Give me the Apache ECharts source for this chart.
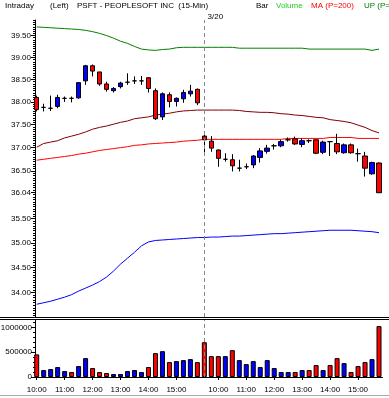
<!DOCTYPE html>
<html><head><meta charset="utf-8">
<script src="https://cdn.jsdelivr.net/npm/echarts@6/dist/echarts.min.js"></script>
<style>html,body{margin:0;padding:0;background:#fff}#c{width:389px;height:398px}</style>
</head><body><div id="c"></div>
<script>
// ---- data ----
const day1Times = ['10:00','10:15','10:30','10:45','11:00','11:15','11:30','11:45','12:00','12:15','12:30','12:45','13:00','13:15','13:30','13:45','14:00','14:15','14:30','14:45','15:00','15:15','15:30','15:45'];
const day2Times = ['9:30','9:45','10:00','10:15','10:30','10:45','11:00','11:15','11:30','11:45','12:00','12:15','12:30','12:45','13:00','13:15','13:30','13:45','14:00','14:15','14:30','14:45','15:00','15:15','15:30','15:45'];
const dayNames = ['3/19','3/20'];

const opens  = [38.10,37.88,37.86,37.90,38.08,38.08,38.09,38.47,38.81,38.67,38.40,38.25,38.34,38.44,38.47,38.47,38.54,38.25,37.67,38.16,38.01,38.07,38.18,38.28,
                37.25,37.14,36.95,36.75,36.74,36.56,36.59,36.63,36.79,36.92,37.04,37.04,37.17,37.19,37.07,37.15,37.17,36.90,37.13,37.09,36.89,37.06,36.87,36.82,36.44,36.67];
const closes = [37.83,37.88,37.86,38.10,38.08,38.08,38.43,38.81,38.69,38.40,38.28,38.30,38.42,38.44,38.47,38.47,38.30,37.63,38.18,38.01,38.08,38.21,38.24,37.98,
                37.17,36.99,36.77,36.75,36.61,36.56,36.59,36.82,36.93,36.99,37.04,37.13,37.17,37.08,37.15,37.15,36.88,37.12,37.13,36.91,37.06,36.89,36.87,36.56,36.68,36.04];
const lows   = [37.79,37.79,37.80,37.86,38.00,37.99,38.07,38.38,38.57,38.36,38.23,38.21,38.30,38.38,38.40,38.38,38.21,37.60,37.60,37.88,37.90,37.98,38.12,37.93,
                36.84,36.91,36.59,36.70,36.49,36.49,36.54,36.56,36.68,36.87,36.96,37.01,37.13,37.06,37.01,37.10,36.86,36.86,36.82,36.86,36.87,36.87,36.70,36.38,36.42,36.04];
const highs  = [38.14,37.96,38.14,38.16,38.12,38.12,38.44,38.83,38.84,38.67,38.45,38.33,38.45,38.64,38.57,38.58,38.55,38.30,38.21,38.21,38.10,38.27,38.38,38.30,
                37.30,37.25,36.96,36.88,36.86,36.74,36.66,36.84,36.99,37.06,37.08,37.17,37.22,37.24,37.20,37.18,37.18,37.15,37.14,37.30,37.09,37.09,36.98,36.91,36.70,36.68];

const volumes = [455000,140000,160000,200000,120000,100000,220000,380000,180000,100000,80000,60000,60000,120000,140000,100000,200000,480000,520000,300000,320000,340000,360000,300000,
                 700000,420000,420000,420000,540000,340000,260000,320000,200000,340000,180000,100000,100000,100000,140000,140000,240000,140000,240000,380000,280000,100000,220000,300000,360000,1025000];
const volumeUp = [0,1,1,1,1,0,1,1,0,0,0,1,1,1,1,1,0,0,1,0,1,1,1,0,
                  0,0,0,1,0,1,1,1,1,1,1,1,1,0,1,0,0,1,0,0,1,0,0,0,1,0];

const upBand = [39.70,39.69,39.68,39.67,39.66,39.65,39.64,39.62,39.59,39.55,39.50,39.44,39.37,39.32,39.25,39.19,39.17,39.16,39.18,39.19,39.22,39.23,39.23,39.23,39.23,
                39.23,39.23,39.23,39.23,39.21,39.21,39.21,39.21,39.21,39.21,39.21,39.21,39.21,39.21,39.19,39.19,39.19,39.19,39.19,39.19,39.19,39.19,39.19,39.16,39.19];
const maSlow = [37.01,37.09,37.12,37.15,37.21,37.25,37.29,37.34,37.40,37.44,37.47,37.51,37.55,37.58,37.63,37.65,37.67,37.71,37.73,37.75,37.78,37.80,37.81,37.82,37.82,
                37.82,37.82,37.82,37.82,37.81,37.79,37.78,37.77,37.77,37.76,37.74,37.73,37.71,37.70,37.68,37.66,37.65,37.61,37.59,37.57,37.54,37.49,37.44,37.37,37.32];
const ma200 = [36.73,36.75,36.77,36.79,36.81,36.83,36.86,36.88,36.91,36.94,36.96,36.98,37.00,37.02,37.05,37.06,37.08,37.09,37.10,37.11,37.12,37.14,37.15,37.16,37.18,
               37.18,37.18,37.18,37.18,37.18,37.18,37.18,37.18,37.18,37.18,37.18,37.20,37.20,37.20,37.20,37.20,37.20,37.22,37.22,37.22,37.22,37.20,37.20,37.20,37.20];
const dnBand = [33.77,33.80,33.83,33.87,33.91,33.96,34.03,34.09,34.15,34.22,34.31,34.43,34.57,34.69,34.81,34.94,35.02,35.05,35.06,35.07,35.08,35.09,35.10,35.11,35.11,
                35.12,35.12,35.13,35.14,35.14,35.15,35.16,35.17,35.18,35.19,35.19,35.20,35.21,35.22,35.23,35.24,35.25,35.26,35.26,35.26,35.26,35.25,35.24,35.23,35.21];

const priceTicks = [39.50,39.00,38.50,38.00,37.50,37.00,36.50,36.04,35.50,35.00,34.50,34.00];
const volumeTicks = [0,500000,1000000];
const priceMin = 33.52, priceMax = 39.86;
const volumeMax = 1147000;
const sessionBreakIndex = 24;

// ---- chart ----
const FONT = "'Liberation Sans',Arial,sans-serif";
const FS = 8;
const L = Math.log;
const categories = [...day1Times.map(t => dayNames[0] + ' ' + t), ...day2Times.map(t => dayNames[1] + ' ' + t)];
const candleData = opens.map((o, i) => [L(o), L(closes[i]), L(lows[i]), L(highs[i])]);
const minorPrice = [];
for (let p = 33.55; p < priceMax; p += 0.05) minorPrice.push(L(p));
const minorVol = [];
for (let v = 0; v <= volumeMax; v += 100000) minorVol.push(v);
const isHour = (i, v) => /:00$/.test(v) && !/^\S+ 9:/.test(v);

const GL = 33.2, GR = 6.5;
const chart = echarts.init(document.getElementById('c'), null, {renderer: 'canvas'});
const txt = (text, left, color) => ({text, left, top: 2, padding: 0,
  textStyle: {fontSize: FS, fontWeight: 'normal', fontFamily: FONT, color: color || '#000'}});
const lineS = (name, data, color) => ({type: 'line', name, xAxisIndex: 0, yAxisIndex: 0,
  data: data.map(L), symbol: 'none', lineStyle: {color, width: 1}, z: 2, animation: false});

chart.setOption({
  animation: false,
  backgroundColor: '#fff',
  textStyle: {fontFamily: FONT},
  title: [
    txt('Intraday', 5), txt('(Left)', 50), txt('PSFT - PEOPLESOFT INC  (15-Min)', 77),
    txt('Bar', 256), txt('Volume', 276, '#22cc22'), txt('MA (P=200)', 311, '#ff0000'),
    txt('UP (P=200)', 364, '#008000')
  ],
  grid: [
    {left: GL, right: GR, top: 20, height: 297, outerBoundsMode: 'none', containLabel: false},
    {left: GL, right: GR, top: 320, height: 57, outerBoundsMode: 'none', containLabel: false}
  ],
  xAxis: [
    {type: 'category', gridIndex: 0, data: categories, boundaryGap: true,
     axisLine: {show: true, lineStyle: {color: '#000'}}, axisTick: {show: false}, axisLabel: {show: false}},
    {type: 'category', gridIndex: 1, data: categories, boundaryGap: true,
     axisLine: {show: true, lineStyle: {color: '#000'}},
     axisTick: {show: true, interval: isHour, alignWithLabel: true, length: 3, lineStyle: {color: '#000'}},
     axisLabel: {interval: isHour, formatter: v => v.split(' ')[1], fontSize: FS, color: '#000', margin: 9, fontFamily: FONT}}
  ],
  yAxis: [
    {type: 'value', gridIndex: 0, position: 'left', min: L(priceMin), max: L(priceMax), offset: -1.8,
     axisLine: {show: true, lineStyle: {color: '#000'}}, splitLine: {show: false},
     axisTick: {show: true, length: 4, customValues: priceTicks.map(L), lineStyle: {color: '#000'}},
     axisLabel: {customValues: priceTicks.map(L), formatter: v => Math.exp(v).toFixed(2), fontSize: FS, color: '#000', margin: 4, fontFamily: FONT}},
    {type: 'value', gridIndex: 0, position: 'left', min: L(priceMin), max: L(priceMax), offset: -1.8,
     axisLine: {show: false}, splitLine: {show: false},
     axisTick: {show: true, length: 2, customValues: minorPrice, lineStyle: {color: '#000'}},
     axisLabel: {show: false}},
    {type: 'value', gridIndex: 1, position: 'left', min: 0, max: volumeMax, offset: -1.8,
     axisLine: {show: true, lineStyle: {color: '#000'}}, splitLine: {show: false},
     axisTick: {show: true, length: 4, customValues: volumeTicks, lineStyle: {color: '#000'}},
     axisLabel: {customValues: volumeTicks, formatter: v => String(Math.round(v)), fontSize: FS, color: '#000', margin: 3, fontFamily: FONT}},
    {type: 'value', gridIndex: 1, position: 'left', min: 0, max: volumeMax, offset: -1.8,
     axisLine: {show: false}, splitLine: {show: false},
     axisTick: {show: true, length: 2, customValues: minorVol, lineStyle: {color: '#000'}},
     axisLabel: {show: false}}
  ],
  series: [
    lineS('UP (P=200)', upBand, '#008000'),
    lineS('MA', maSlow, '#800000'),
    lineS('MA (P=200)', ma200, '#ff0000'),
    lineS('DN (P=200)', dnBand, '#0000ff'),
    {type: 'candlestick', name: 'Bar', xAxisIndex: 0, yAxisIndex: 0, data: candleData, barWidth: 5, z: 3,
     itemStyle: {color: '#0000ff', color0: '#ff0000', borderColor: '#000', borderColor0: '#000', borderColorDoji: '#000', borderWidth: 1},
     markLine: {silent: true, symbol: 'none', animation: false,
       lineStyle: {color: '#888', type: [4, 3], width: 1},
       label: {show: true, position: 'end', formatter: dayNames[1], color: '#000', fontSize: FS, fontFamily: FONT, offset: [11, 6]},
       data: [{xAxis: sessionBreakIndex}]}},
    {type: 'bar', name: 'Volume', xAxisIndex: 1, yAxisIndex: 2, data: volumes, barWidth: 5,
     itemStyle: {color: p => volumeUp[p.dataIndex] ? '#0000ff' : '#ff0000', borderColor: '#000', borderWidth: 1},
     markLine: {silent: true, symbol: 'none', animation: false,
       lineStyle: {color: '#888', type: [4, 3], width: 1}, label: {show: false},
       data: [{xAxis: sessionBreakIndex}]}}
  ],
  graphic: [
    {type: 'line', shape: {x1: 0, y1: 317.5, x2: 389, y2: 317.5}, style: {stroke: '#000', lineWidth: 1}, silent: true},
    {type: 'line', shape: {x1: 0, y1: 319.5, x2: 389, y2: 319.5}, style: {stroke: '#000', lineWidth: 1}, silent: true},
    {type: 'line', shape: {x1: 0, y1: 395.5, x2: 389, y2: 395.5}, style: {stroke: '#aaa', lineWidth: 1}, silent: true}
  ]
});
</script></body></html>
